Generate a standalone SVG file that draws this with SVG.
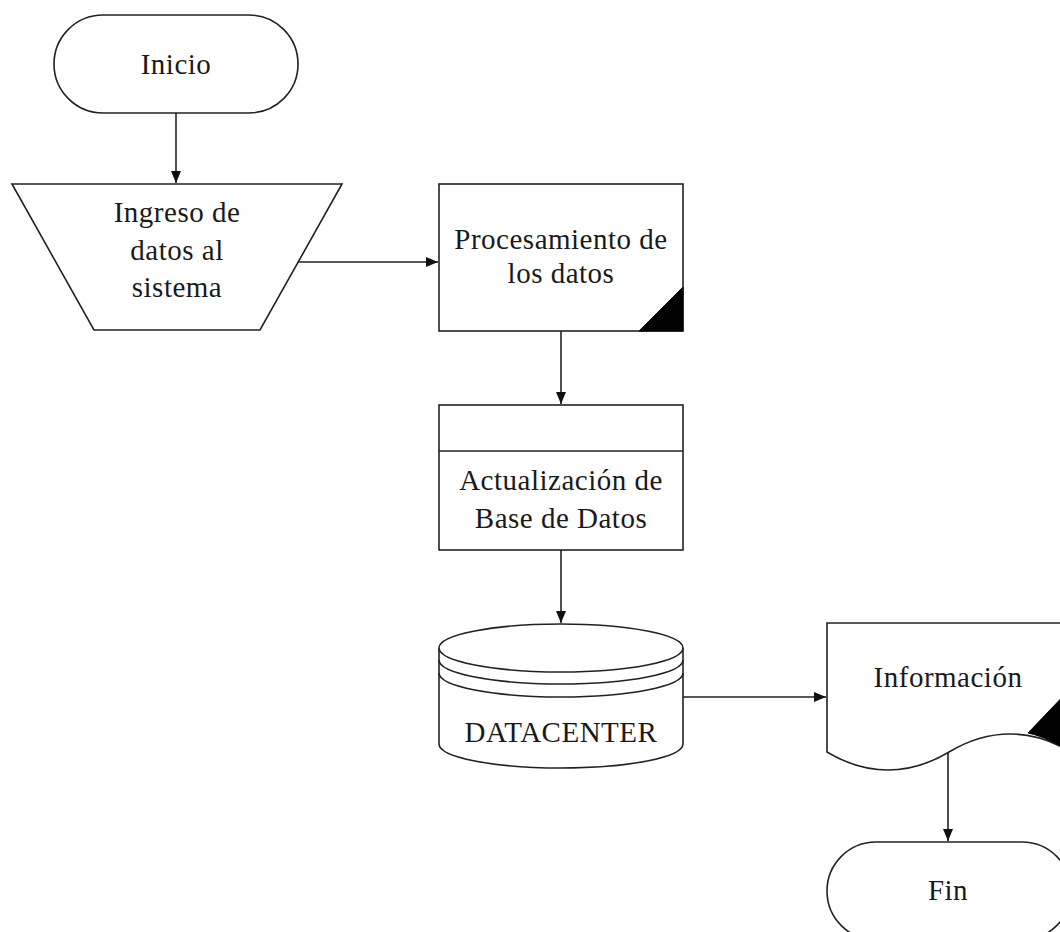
<svg xmlns="http://www.w3.org/2000/svg" width="1060" height="932" viewBox="0 0 1060 932">
<style>
.s{fill:#fff;stroke:#222;stroke-width:1.6}
.l{fill:none;stroke:#222;stroke-width:1.6}
.k{fill:#000;stroke:#000;stroke-width:1}
.t{font-family:"Liberation Serif","Times New Roman",serif;font-size:29px;fill:#1a1a1a;text-anchor:middle;letter-spacing:0.5px}
</style>
<defs>
<marker id="ah" markerUnits="userSpaceOnUse" markerWidth="13" markerHeight="10" refX="12" refY="5" orient="auto">
<path d="M0,0 L12,5 L0,10 Z" fill="#111"/>
</marker>
</defs>
<rect width="1060" height="932" fill="#fff"/>
<g id="connectors">
<line class="l" x1="176" y1="113" x2="176" y2="183" marker-end="url(#ah)"/>
<line class="l" x1="298" y1="262" x2="438" y2="262" marker-end="url(#ah)"/>
<line class="l" x1="561" y1="331" x2="561" y2="404" marker-end="url(#ah)"/>
<line class="l" x1="561" y1="550" x2="561" y2="623" marker-end="url(#ah)"/>
<line class="l" x1="683" y1="697" x2="826" y2="697" marker-end="url(#ah)"/>
<line class="l" x1="948" y1="752" x2="948" y2="841" marker-end="url(#ah)"/>
</g>
<g id="inicio">
<rect class="s" x="54" y="15" width="244" height="98" rx="49" ry="49"/>
<text class="t" x="176" y="74">Inicio</text>
</g>
<g id="ingreso">
<polygon class="s" points="12,184 342,184 260,330 94,330"/>
<text class="t" x="177" y="222">Ingreso de</text>
<text class="t" x="177" y="260">datos al</text>
<text class="t" x="177" y="297">sistema</text>
</g>
<g id="procesamiento">
<rect class="s" x="439" y="184" width="244" height="147"/>
<polygon class="k" points="683,287 683,331 639,331"/>
<text class="t" x="561" y="249">Procesamiento de</text>
<text class="t" x="561" y="283">los datos</text>
</g>
<g id="actualizacion">
<rect class="s" x="439" y="405" width="244" height="145"/>
<line class="l" x1="439" y1="451" x2="683" y2="451"/>
<text class="t" x="561" y="490">Actualización de</text>
<text class="t" x="561" y="528">Base de Datos</text>
</g>
<g id="datacenter">
<path class="s" d="M439,648 L439,744 A122,24 0 0 0 683,744 L683,648"/>
<ellipse class="s" cx="561" cy="648" rx="122" ry="24"/>
<path class="l" d="M439,660 A122,24 0 0 0 683,660"/>
<path class="l" d="M439,673 A122,24 0 0 0 683,673"/>
<text class="t" x="561" y="742">DATACENTER</text>
</g>
<g id="informacion">
<path class="s" d="M827,623 L1071,623 L1071,752 C1031,728 989,728 949,752 C909,776 867,776 827,752 Z"/>
<path class="k" d="M1028,733 L1071,688 L1071,752 C1057,744 1043,736 1028,733 Z"/>
<text class="t" x="948" y="687">Información</text>
</g>
<g id="fin">
<rect class="s" x="827" y="842" width="244" height="98" rx="49" ry="49"/>
<text class="t" x="948" y="900">Fin</text>
</g>
</svg>
